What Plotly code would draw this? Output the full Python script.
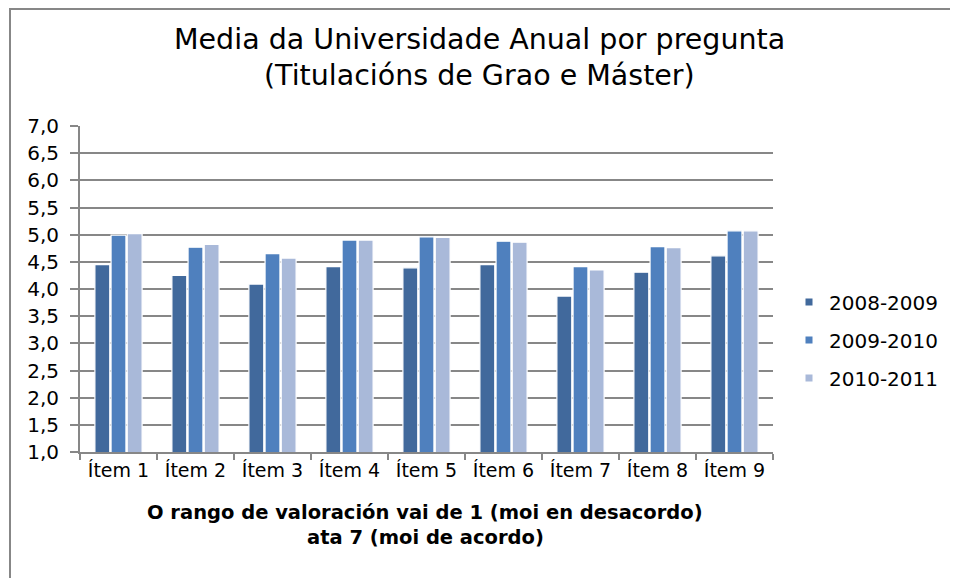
import plotly.graph_objects as go

items = ["Ítem 1", "Ítem 2", "Ítem 3", "Ítem 4", "Ítem 5", "Ítem 6", "Ítem 7", "Ítem 8", "Ítem 9"]
s_2008_2009 = [4.45, 4.25, 4.09, 4.41, 4.39, 4.45, 3.87, 4.31, 4.61]
s_2009_2010 = [4.99, 4.77, 4.65, 4.90, 4.96, 4.88, 4.41, 4.78, 5.07]
s_2010_2011 = [5.02, 4.82, 4.57, 4.90, 4.95, 4.86, 4.35, 4.76, 5.07]
series_names = ["2008-2009", "2009-2010", "2010-2011"]
colors = ["#41699C", "#4F80BE", "#A9B9D9"]

# page has an 8px body margin; figure is sized so it fits the 958x578 window
OFF = 8
W, H = 950, 570
L, R, T, B = 72, 185, 118, 126
pw = W - L - R
ph = H - T - B

def px_x(page_x):
    return (page_x - OFF - L) / pw

def px_y(page_y):
    return (H - B - (page_y - OFF)) / ph

fig = go.Figure()
for name, vals, col in zip(series_names, [s_2008_2009, s_2009_2010, s_2010_2011], colors):
    fig.add_trace(go.Bar(x=items, y=vals, name=name,
                         marker=dict(color=col, line=dict(color="#FFFFFF", width=1.2)),
                         showlegend=False))
    fig.add_trace(go.Scatter(x=[None], y=[None], mode="markers", name=name,
                             marker=dict(symbol="square", size=7, color=col), legendgroup=name))

txt = dict(family="DejaVu Sans", color="#000000")

fig.update_layout(
    width=W, height=H,
    margin=dict(l=L, r=R, t=T, b=B),
    paper_bgcolor="white", plot_bgcolor="white",
    separators=",.",
    barmode="group", bargap=0.37, bargroupgap=0.08,
    font=txt,
    xaxis=dict(
        showline=True, linecolor="#878787", linewidth=2,
        ticks="outside", tickson="boundaries", ticklen=6, tickcolor="#878787", tickwidth=2,
        tickfont=dict(size=19, **txt),
        showgrid=False,
    ),
    yaxis=dict(
        range=[1, 7], tick0=1, dtick=0.5, tickformat=".1f",
        showline=True, linecolor="#878787", linewidth=2,
        ticks="outside", ticklen=8, tickcolor="#878787", tickwidth=2,
        ticklabelstandoff=7,
        showgrid=True, gridcolor="#878787", gridwidth=2,
        zeroline=False,
        tickfont=dict(size=20, **txt),
    ),
    legend=dict(x=px_x(789), xanchor="left", y=px_y(340), yanchor="middle",
                font=dict(size=20, **txt),
                tracegroupgap=9, itemwidth=30, bgcolor="rgba(0,0,0,0)"),
    annotations=[
        dict(text="Media da Universidade Anual por pregunta", xref="paper", yref="paper",
             x=px_x(479), y=px_y(40), xanchor="center", yanchor="middle", showarrow=False,
             font=dict(size=28.5, **txt)),
        dict(text="(Titulacións de Grao e Máster)", xref="paper", yref="paper",
             x=px_x(479), y=px_y(75), xanchor="center", yanchor="middle", showarrow=False,
             font=dict(size=28.5, **txt)),
        dict(text="<b>O rango de valoración vai de 1 (moi en desacordo)</b>", xref="paper", yref="paper",
             x=px_x(425), y=px_y(512), xanchor="center", yanchor="middle", showarrow=False,
             font=dict(size=19.5, **txt)),
        dict(text="<b>ata 7 (moi de acordo)</b>", xref="paper", yref="paper",
             x=px_x(425), y=px_y(537), xanchor="center", yanchor="middle", showarrow=False,
             font=dict(size=19.5, **txt)),
    ],
    shapes=[
        dict(type="line", xref="paper", yref="paper", x0=px_x(10), x1=px_x(10), y0=px_y(8), y1=px_y(600),
             line=dict(color="#878787", width=2)),
        dict(type="line", xref="paper", yref="paper", x0=px_x(9), x1=px_x(980), y0=px_y(9), y1=px_y(9),
             line=dict(color="#878787", width=2)),
    ],
)

fig.write_html("out.html")
